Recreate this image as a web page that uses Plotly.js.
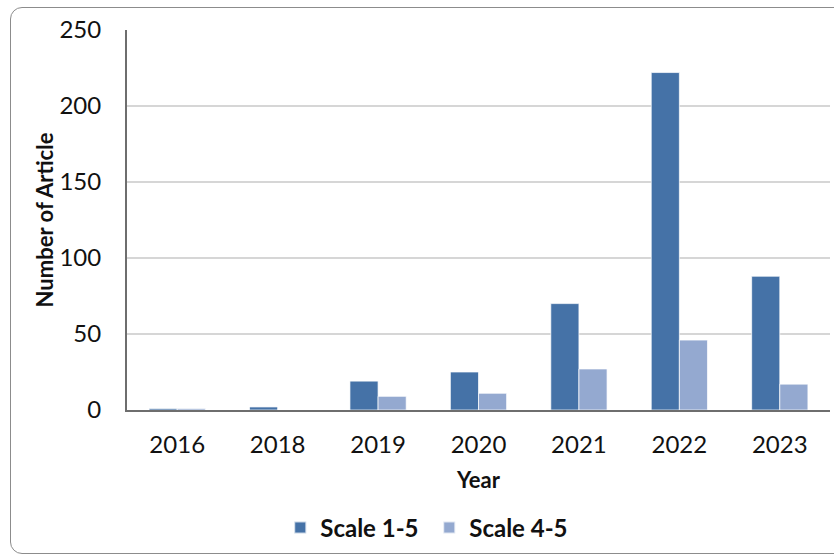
<!DOCTYPE html>
<html>
<head>
<meta charset="utf-8">
<script src="https://cdn.plot.ly/plotly-3.0.1.min.js"></script>
<style>
  html, body { margin: 0; padding: 0; background: #ffffff; }
  #wrap { position: relative; width: 834px; height: 556px; overflow: hidden; }
  #frame {
    position: absolute; left: 10px; top: 7px; width: 850px; height: 547px;
    border: 1.5px solid #8c8c8c; border-radius: 12px; box-sizing: border-box;
    pointer-events: none;
  }
  #chart { position: absolute; left: 0; top: 0; width: 834px; height: 556px; }
</style>
</head>
<body>
<div id="wrap">
  <div id="frame"></div>
  <div id="chart"></div>
</div>
<script>
// Articles per publication year, by rating scale
const years = ["2016", "2018", "2019", "2020", "2021", "2022", "2023"];
const scale15 = [1, 2, 19, 25, 70, 222, 88];
const scale45 = [1, 0, 9, 11, 27, 46, 17];
const seriesNames = ["Scale 1-5", "Scale 4-5"];
const yTicks = [0, 50, 100, 150, 200, 250];

const font = "Lato, 'Open Sans', sans-serif";

const traces = [
  {
    type: "bar", name: seriesNames[0], x: years, y: scale15,
    marker: { color: "#4572A7", line: { color: "rgba(255,255,255,0.7)", width: 1 } }
  },
  {
    type: "bar", name: seriesNames[1], x: years, y: scale45,
    marker: { color: "#94A9D0", line: { color: "rgba(255,255,255,0.7)", width: 1 } }
  }
];

const layout = {
  width: 834, height: 556,
  margin: { l: 127, r: 4, t: 30, b: 146, autoexpand: false },
  paper_bgcolor: "rgba(0,0,0,0)",
  plot_bgcolor: "rgba(0,0,0,0)",
  barmode: "group", bargap: 0.44, bargroupgap: 0,
  font: { family: font, color: "#000000" },
  showlegend: true,
  legend: {
    orientation: "h", x: 0.218, xanchor: "left", y: -0.31, yanchor: "middle",
    font: { family: font, size: 24, color: "#111111", weight: "bold" },
    entrywidth: 104, entrywidthmode: "pixels", itemsizing: "constant"
  },
  xaxis: {
    type: "category",
    showline: true, linecolor: "#6e6e6e", linewidth: 2,
    ticks: "", ticklabelstandoff: 12,
    tickfont: { family: font, size: 24, color: "#111111" },
    title: { text: "Year", font: { family: font, size: 22, color: "#111111", weight: "bold" }, standoff: 16 }
  },
  yaxis: {
    range: [0, 250], tickvals: yTicks,
    showline: true, linecolor: "#6e6e6e", linewidth: 2,
    showgrid: true, gridcolor: "#d6d6d6", gridwidth: 1.5,
    zeroline: false, ticks: "", ticklabelstandoff: 19,
    tickfont: { family: font, size: 24, color: "#111111" },
    title: { text: "Number of Article", font: { family: font, size: 22, color: "#111111", weight: "bold" }, standoff: 0 }
  }
};

Plotly.newPlot("chart", traces, layout, { staticPlot: true, displayModeBar: false });
</script>
</body>
</html>
